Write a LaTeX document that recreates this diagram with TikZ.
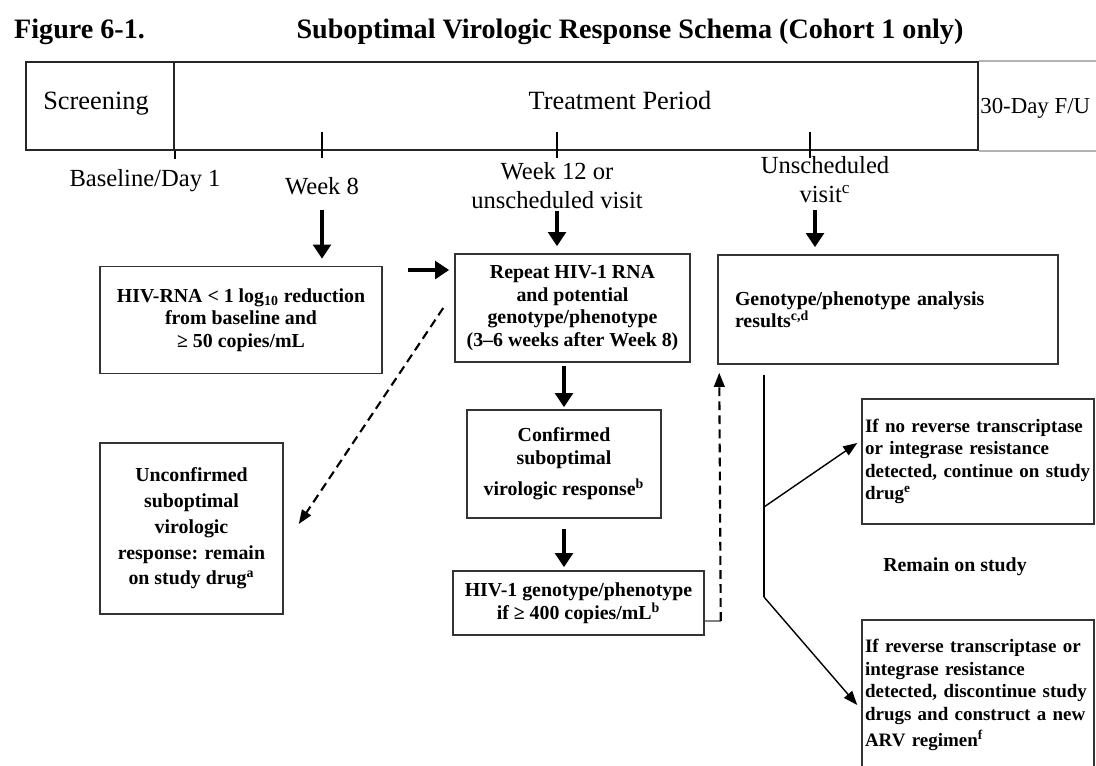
\documentclass[tikz,border=0pt]{standalone}
\usepackage{fontspec}
\setmainfont{Liberation Serif}
\usetikzlibrary{arrows.meta}

\begin{document}
\begin{tikzpicture}
    [x=0.02cm, y=-0.02cm,
    phase/.style={draw=black!85, line width=0.9pt, minimum height=1.76cm, inner sep=0pt},
    phasetxt/.style={font=\fontsize{15}{17}\selectfont, inner sep=0pt},
    visit/.style={font=\fontsize{14}{16.5}\selectfont, align=center, inner sep=0pt},
    box/.style={draw=black!80, line width=0.9pt, font=\bfseries\fontsize{11.3}{12.8}\selectfont, align=center, inner sep=0pt},
    sidebox/.style={box, font=\bfseries\fontsize{10.8}{12.8}\selectfont, minimum width=4.64cm, text width=4.52cm, align=left},
    fat/.style={line width=2.8pt, -{Triangle[length=8pt,width=10pt]}},
    dash1/.style={line width=1.2pt, dash pattern=on 5pt off 3pt, -{Triangle[length=8pt,width=6pt]}},
    thin1/.style={line width=0.8pt, -{Triangle[length=8pt,width=6pt]}}]

    % title
    \node[anchor=west, font=\bfseries\fontsize{16}{18}\selectfont] (fig) at (8,32) {Figure 6-1.};
    \node[font=\bfseries\fontsize{16}{18}\selectfont] (title) at (630,32) {Suboptimal Virologic Response Schema (Cohort 1 only)};

    % time bar
    \node[phase, minimum width=2.96cm] (screen) at (100,106) {};
    \node[phase, minimum width=16.08cm] (treat) at (576,106) {};
    \node[phasetxt] (screentxt) at (96,104) {Screening};
    \node[phasetxt] (treattxt) at (620,100) {Treatment Period};
    \node[anchor=west, font=\fontsize{13}{15}\selectfont, inner sep=0pt] (fu) at (980,108) {30-Day F/U};
    \draw[gray!60, line width=0.9pt] (treat.north east) -- ++(2.4cm,0);
    \draw[gray!60, line width=0.9pt] (treat.south east) -- ++(2.4cm,0);

    % ticks
    \draw[line width=0.9pt] (screen.south east) -- ++(0,-0.16cm);
    \foreach \x in {322,557,810}
    {
        \draw[line width=0.9pt] (\x,132) -- (\x,158);
    }

    % visits
    \node[visit] (base) at (145,181) {Baseline/Day 1};
    \node[visit] (wk8) at (322,186) {Week 8};
    \node[visit] (wk12) at (557,186) {Week 12 or\\unscheduled visit};
    \node[visit] (unsch) at (825,180) {Unscheduled\\visit\textsuperscript{c}};

    % boxes
    \node[box, minimum width=5.64cm, minimum height=2.14cm] (rna) at (241,320)
        {HIV-RNA < 1 log\textsubscript{10} reduction\\from baseline and\\≥ 50 copies/mL};
    \node[box, minimum width=4.7cm, minimum height=2.16cm] (rep) at (572.5,308)
        {Repeat HIV-1 RNA\\and potential\\genotype/phenotype\\(3--6 weeks after Week 8)};
    \node[box, minimum width=6.8cm, minimum height=2.18cm, text width=6.12cm, align=left] (geno) at (888,309.5)
        {Genotype/phenotype analysis\\results\textsuperscript{c,d}};
    \node[box, font=\bfseries\fontsize{11.3}{14.7}\selectfont, minimum width=3.66cm, minimum height=3.42cm] (unconf) at (191.5,528.5)
        {Unconfirmed\\suboptimal\\virologic\\response: remain\\on study drug\textsuperscript{a}};
    \node[box, minimum width=3.88cm, minimum height=2.16cm] (conf) at (564,464)
        {Confirmed\\suboptimal\\[5pt]virologic response\textsuperscript{b}};
    \node[box, minimum width=5.02cm, minimum height=1.28cm] (g400) at (578.5,603)
        {HIV-1 genotype/phenotype\\if ≥ 400 copies/mL\textsuperscript{b}};
    \node[sidebox, minimum height=2.5cm] (keep) at (978,461.5)
        {If no reverse transcriptase\\or integrase resistance\\detected, continue on study\\drug\textsuperscript{e}};
    \node[sidebox, minimum height=3.0cm] (swap) at (978,695)
        {If reverse transcriptase or\\integrase resistance\\detected, discontinue study\\drugs and construct a new\\[2pt]ARV regimen\textsuperscript{f}};
    \node[font=\bfseries\fontsize{11.3}{13}\selectfont] (remain) at (955,567) {Remain on study};

    % arrows
    \draw[fat, shorten <=0.3cm, shorten >=0.14cm] (wk8.south) -- (wk8.south |- rna.north);
    \draw[fat, shorten <=0.04cm, shorten >=0.14cm] (wk12.south) -- (wk12.south |- rep.north);
    \draw[fat, shorten <=0.14cm, shorten >=0.14cm] ([xshift=-0.2cm]unsch.south) -- ([xshift=-0.2cm]unsch.south |- geno.north);
    \draw[fat] ([shift={(0.5cm,1cm)}]rna.east) -- ([shift={(-0.1cm,1cm)}]rna.east -| rep.west);
    \draw[dash1] ([xshift=-0.22cm]rep.west) -- ([shift={(0.3cm,0.09cm)}]unconf.east);
    \draw[fat, shorten <=0.06cm, shorten >=0.04cm] (conf.north |- rep.south) -- (conf.north);
    \draw[fat, shorten <=0.2cm, shorten >=0.06cm] (conf.south) -- (conf.south |- g400.north);

    % back to genotype box
    \draw[line width=0.8pt, gray] ([yshift=-0.36cm]g400.east) -- ++(0.32cm,0) coordinate (up);
    \draw[dash1] (up) -- ([shift={(0.04cm,-0.16cm)}]geno.south west);

    % results branch
    \coordinate[] (t1) at (764,375);
    \coordinate[] (t2) at (764,507);
    \coordinate[] (t3) at (764,597);
    \draw[line width=0.8pt] (t1) -- (t3);
    \draw[thin1] (t2) -- ([shift={(-0.08cm,0.37cm)}]keep.west);
    \draw[thin1] (t3) -- ([shift={(-0.08cm,-0.2cm)}]swap.west);

    \pgfresetboundingbox
    \useasboundingbox (0,0) rectangle (1096,766);
\end{tikzpicture}
\end{document}
